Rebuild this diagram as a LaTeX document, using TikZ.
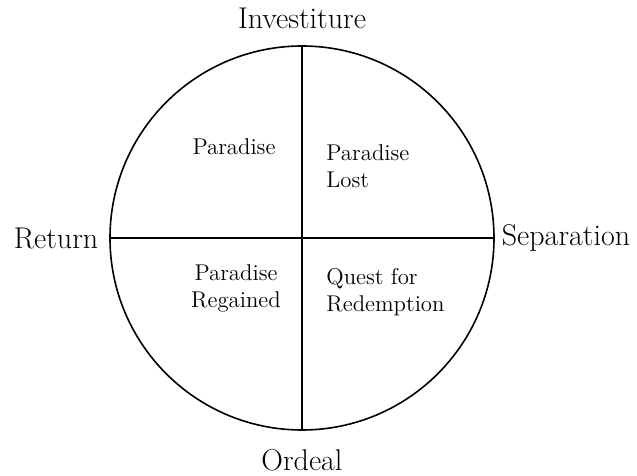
\documentclass[tikz,border=0pt]{standalone}
\usetikzlibrary{positioning}
\tikzset{wheelline/.style = {line width=0.8pt},
         outerlabel/.style = {font=\fontsize{15}{18}\selectfont, inner sep=0pt},
         innerlabel/.style = {font=\fontsize{11.4}{13.5}\selectfont, inner sep=0pt}}

\begin{document}
\begin{tikzpicture}
\useasboundingbox (-151pt,-119pt) rectangle (167.5pt,119pt);
\node [circle, draw, wheelline, minimum size=192pt, inner sep=0pt] (wheel) at (0,0) {};
\draw [wheelline] (wheel.north) -- (wheel.south);
\draw [wheelline] (wheel.west) -- (wheel.east);
\node [outerlabel] (investiture) at (0,110pt) {Investiture};
\node [outerlabel] (ordeal) at (0,-111pt) {Ordeal};
\node [outerlabel] (return) at (-123pt,0) {Return};
\node [outerlabel] (separation) at (132pt,0) {Separation};
\node [innerlabel] (paradise) at (-34pt,45.5pt) {Paradise};
\node [innerlabel, align=left, anchor=west] (lost) at (12pt,36pt) {Paradise\\Lost};
\node [innerlabel, align=center] (regained) at (-33pt,-25pt) {Paradise\\Regained};
\node [innerlabel, align=left, anchor=west] (quest) at (12pt,-27pt) {Quest for\\Redemption};
\end{tikzpicture}
\end{document}
